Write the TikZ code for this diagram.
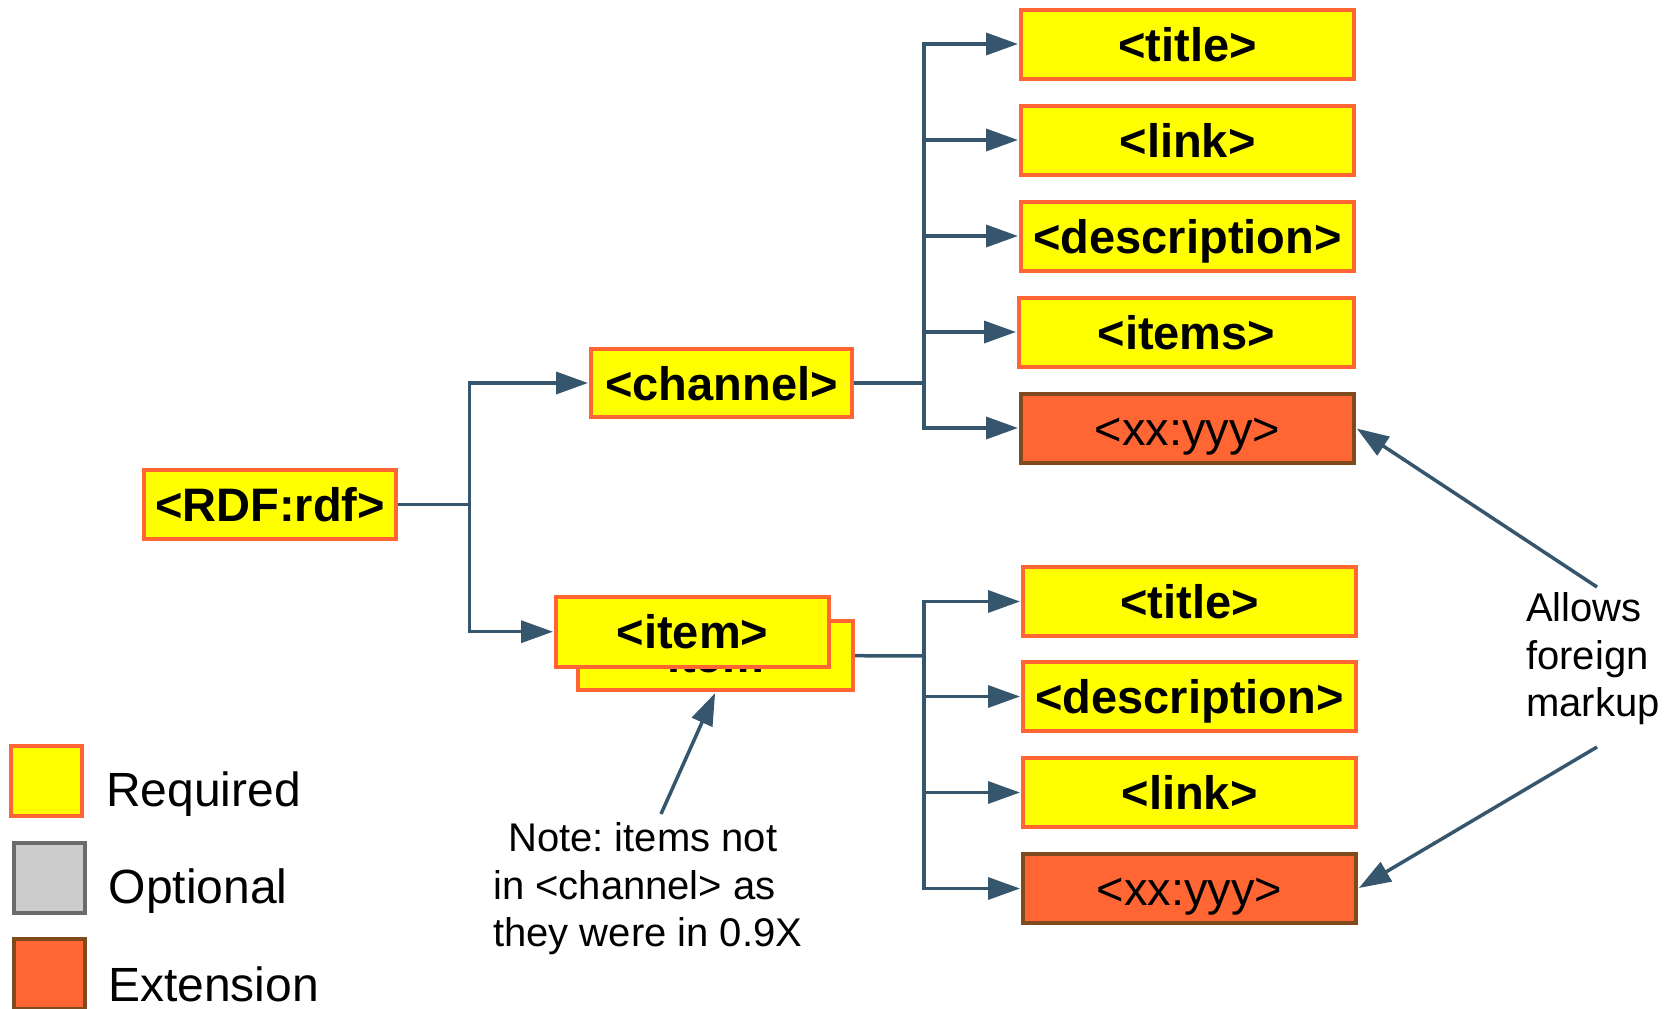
\documentclass[tikz,border=0pt]{standalone}
\usepackage{fontspec}
\setmainfont{Liberation Sans}
\usetikzlibrary{arrows.meta}

\definecolor{reqfill}{HTML}{FFFF00}
\definecolor{reqline}{HTML}{FF6633}
\definecolor{extfill}{HTML}{FF6633}
\definecolor{extline}{HTML}{7F4A1E}
\definecolor{optfill}{HTML}{CCCCCC}
\definecolor{optline}{HTML}{6B6B6B}
\definecolor{wirecol}{HTML}{36566D}

\tikzset{
  elem/.style={rectangle, draw=reqline, fill=reqfill, line width=4pt,
    inner sep=0pt, text=black, text height=40pt, text depth=6pt,
    font=\fontsize{47pt}{56pt}\selectfont\bfseries},
  extelem/.style={elem, draw=extline, fill=extfill,
    font=\fontsize{47pt}{56pt}\selectfont},
  leaf/.style={minimum width=333pt, minimum height=69pt},
  wire/.style={draw=wirecol, line width=3.5pt, line join=miter},
  arr/.style={wire, -{Triangle[length=32pt,width=22pt]}, shorten >=1pt},
  key/.style={rectangle, line width=4pt, minimum width=71pt, minimum height=70pt},
  keytext/.style={anchor=base west, inner sep=0pt, font=\fontsize{48pt}{57pt}\selectfont},
  remark/.style={anchor=base west, inner sep=0pt, align=left,
    font=\fontsize{40pt}{47.5pt}\selectfont\frenchspacing}
}

\begin{document}
\begin{tikzpicture}[x=1pt, y=-1pt]
  \useasboundingbox (0,0) rectangle (1673,1009);
  \clip (0,0) rectangle (1673,1009);

  % root and its two children
  \node[elem, minimum width=252pt, minimum height=69pt] (rdf) at (270,504.5) {<RDF:rdf>};
  \node[elem, minimum width=261pt, minimum height=68pt] (channel) at (721.5,383) {<channel>};
  \node[elem, minimum width=275pt, minimum height=69pt] (itemback) at (715.5,655.7) {<item>};
  \node[elem, minimum width=273pt, minimum height=70pt] (item) at (692.5,631.7) {<item>};

  % children of <channel>
  \node[elem, leaf] (ctitle) at (1187.5,44) {<title>};
  \node[elem, leaf] (clink)  at (1187.5,140) {<link>};
  \node[elem, leaf] (cdesc)  at (1187.5,236) {<description>};
  \node[elem, leaf, minimum width=335pt] (citems) at (1186.5,332) {<items>};
  \node[extelem, leaf] (cext) at (1187.5,428) {<xx:yyy>};

  % children of <item>
  \node[elem, leaf] (ititle) at (1189.5,601.5) {<title>};
  \node[elem, leaf] (idesc)  at (1189.5,696.5) {<description>};
  \node[elem, leaf] (ilink)  at (1189.5,792.5) {<link>};
  \node[extelem, leaf] (iext) at (1189.5,888.5) {<xx:yyy>};

  % branching points
  \coordinate (trunk) at (469.5,504.5);
  \coordinate (cbus) at (924,383);
  \coordinate (ibus) at (924,656);

  \draw[wire] (rdf.east) -- (trunk);
  \draw[arr] (trunk) |- (channel.west);
  \draw[arr] (trunk) |- (item.west);

  \draw[wire] (channel.east) -- (cbus);
  \foreach \n in {ctitle,clink,cdesc,citems,cext}
    \draw[arr] (cbus) |- (\n.west);

  \draw[wire] (itemback.east) -- (ibus);
  \foreach \n in {ititle,idesc,ilink,iext}
    \draw[arr] (ibus) |- (\n.west);

  % annotations (anchored at the baseline of their last line)
  \node[remark] (note) at (493,946.7)
    {\hspace*{15pt}Note: items not\\in <channel> as\\they were in 0.9X};
  \coordinate (notefrom) at (661,814);
  \draw[arr] (notefrom) -- (itemback.south);

  \node[remark] (foreign) at (1526,716.7) {Allows\\foreign\\markup};
  \coordinate (fupper) at (1597,587);
  \coordinate (flower) at (1597,747);
  \draw[arr] (fupper) -- (cext.east);
  \draw[arr] (flower) -- (iext.east);

  % legend
  \node[key, draw=reqline, fill=reqfill] (kreq) at (46.7,781) {};
  \node[key, draw=optline, fill=optfill] (kopt) at (49,877.5) {};
  \node[key, draw=extline, fill=extfill] (kext) at (49,973.5) {};
  \node[keytext] (treq) at (106,806.7) {Required};
  \node[keytext] (topt) at (108.5,903.3) {Optional};
  \node[keytext] (text) at (108,1001.7) {Extension};
\end{tikzpicture}
\end{document}
